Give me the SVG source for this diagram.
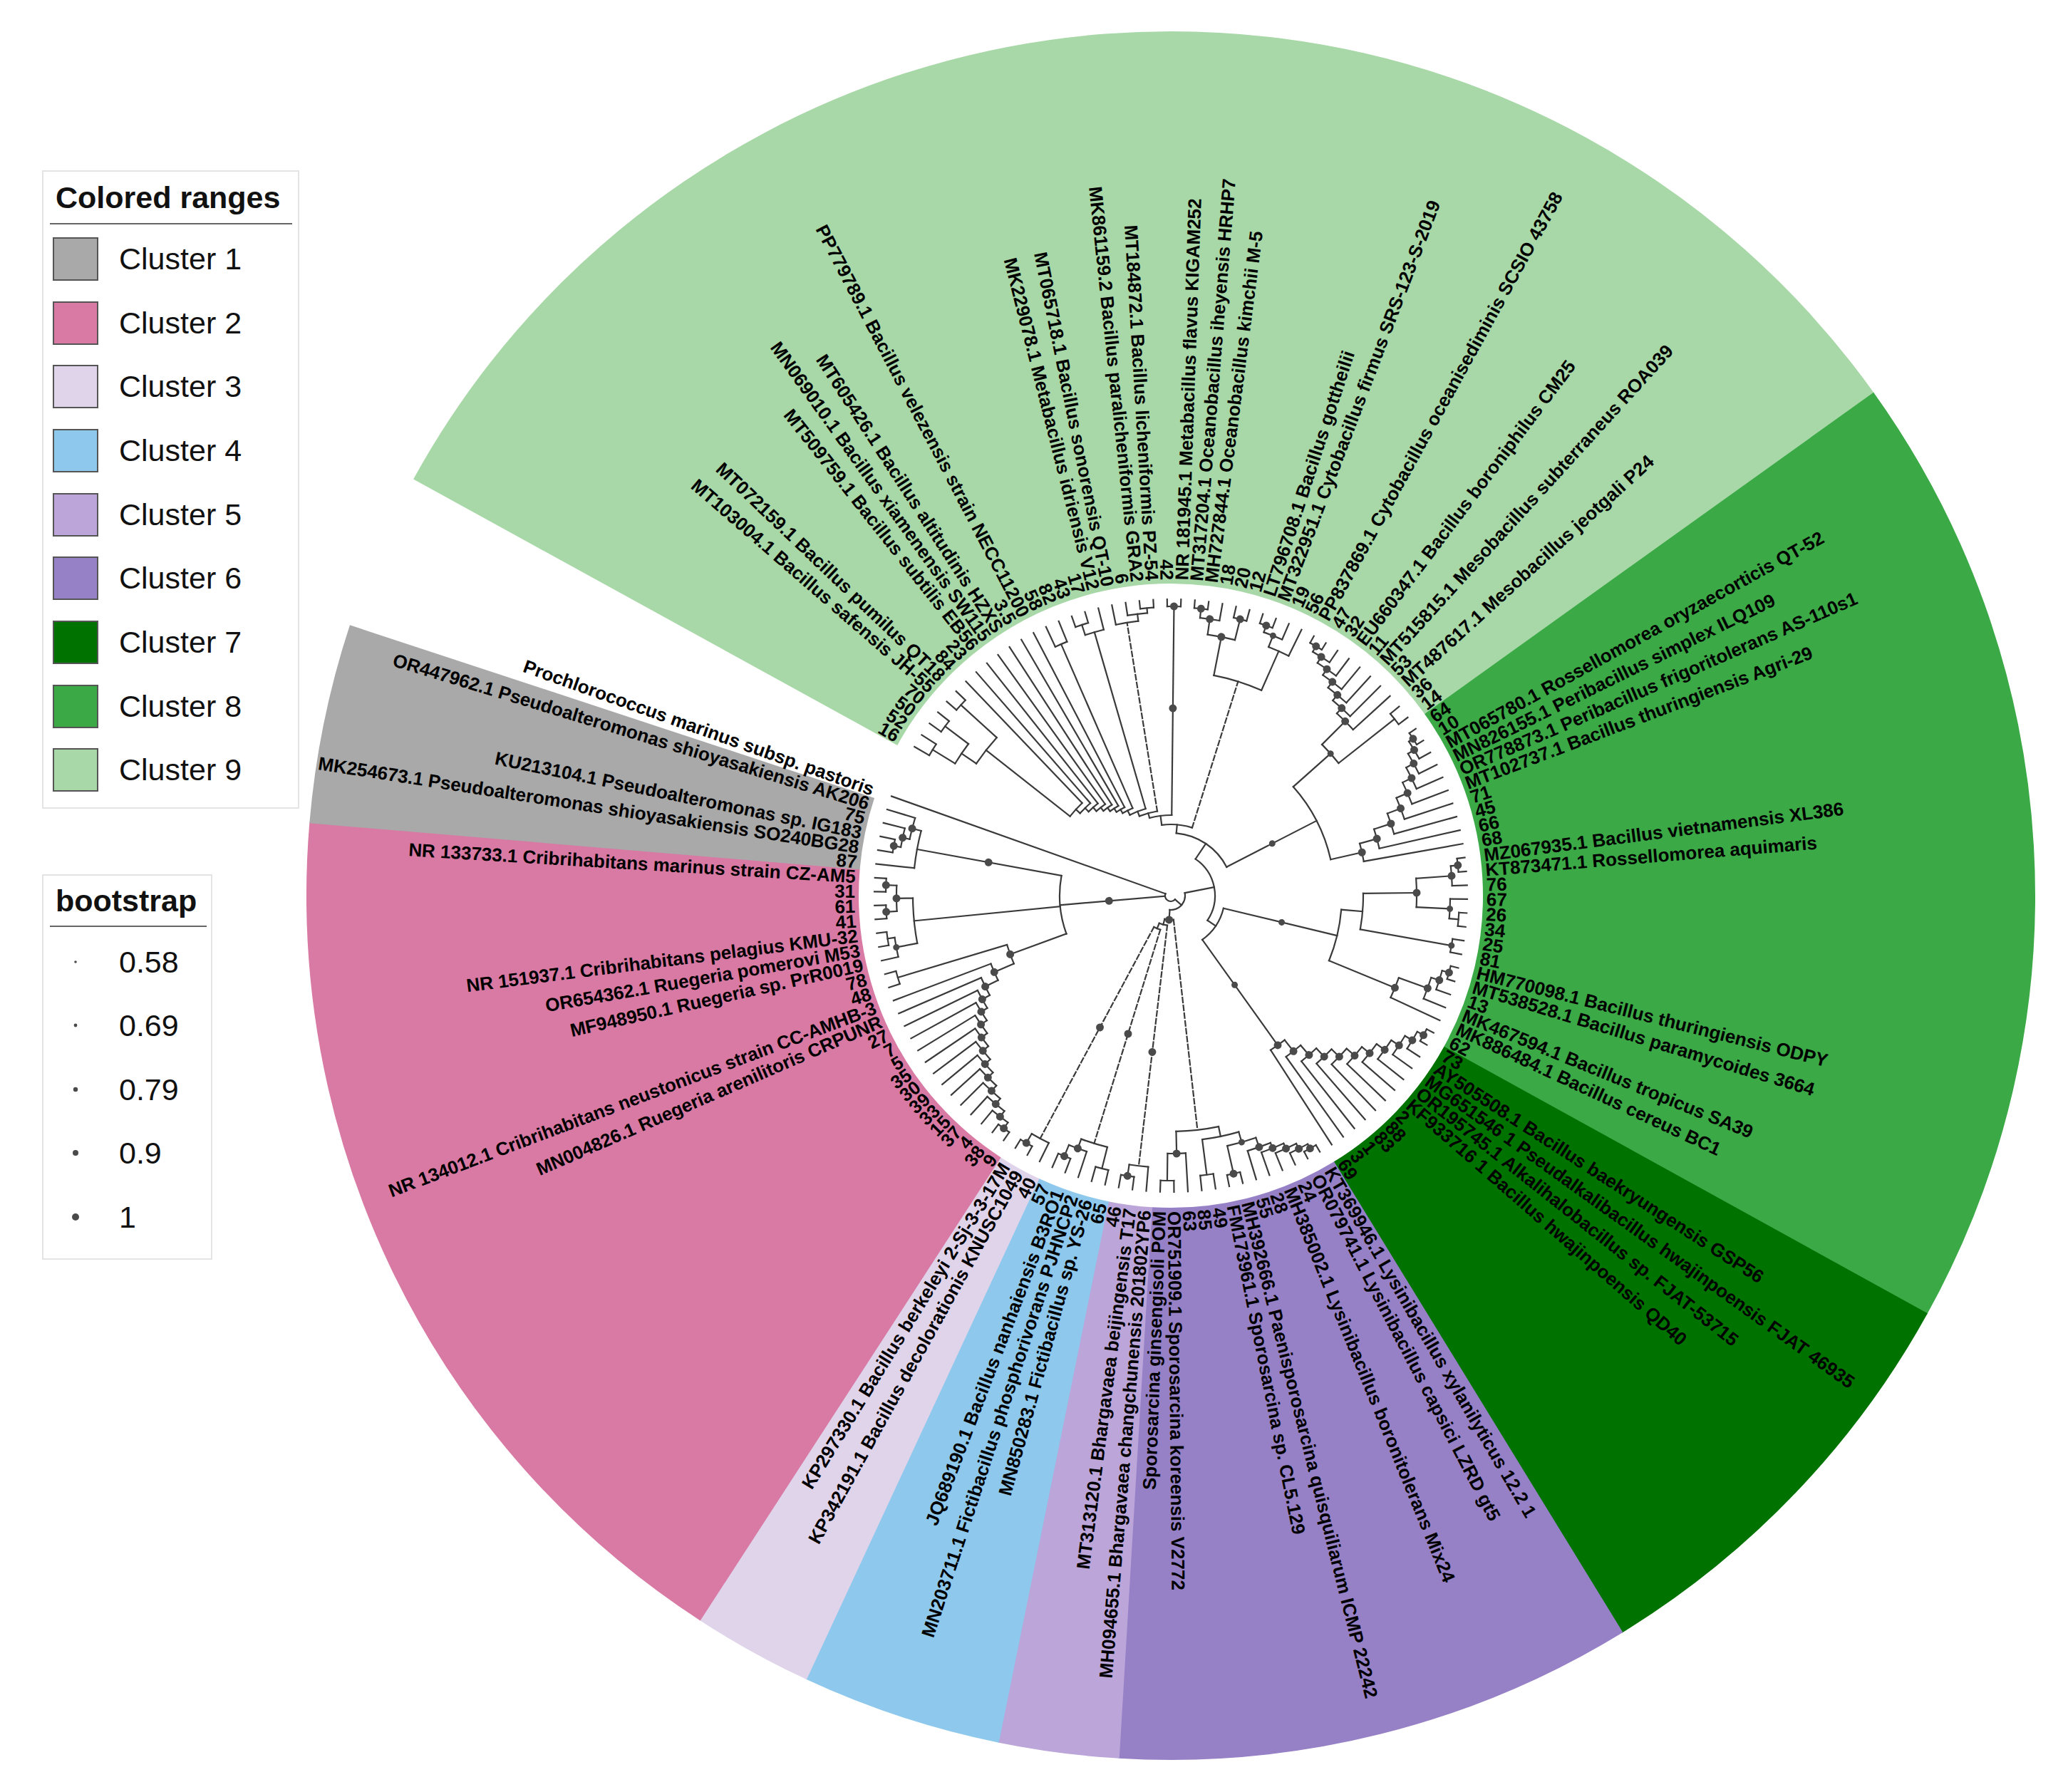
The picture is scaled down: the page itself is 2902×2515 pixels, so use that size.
<svg xmlns="http://www.w3.org/2000/svg" width="2902" height="2515" viewBox="0 0 2902 2515">
<style>
.rg{fill:none;stroke-width:775}
.br{fill:none;stroke:#3a3a3a;stroke-width:2.2;stroke-linecap:square}
.ds{stroke-dasharray:7 4}
.dt{fill:#4a4a4a}
.lb{font-family:"Liberation Sans",Arial,Helvetica,sans-serif;font-weight:bold;font-size:26px;fill:#000}
.f{text-anchor:end}
.lgt{font-family:"Liberation Sans",Arial,Helvetica,sans-serif;font-size:43px;fill:#111}
.lgh{font-weight:bold}
.sw{stroke:#555;stroke-width:2}
</style>
<rect width="2902" height="2515" fill="#fff"/>
<g transform="translate(1643 1257) rotate(-0.25)">
<g id="ranges">
<circle class="rg" r="825.5" stroke="#a8d8a8" stroke-dasharray="1666 6000" transform="rotate(209.056)"/>
<circle class="rg" r="825.5" stroke="#3aa946" stroke-dasharray="930.5 6000" transform="rotate(324.64)"/>
<circle class="rg" r="825.5" stroke="#007200" stroke-dasharray="427 6000" transform="rotate(389.152)"/>
<circle class="rg" r="825.5" stroke="#9680c6" stroke-dasharray="504.5 6000" transform="rotate(418.72)"/>
<circle class="rg" r="825.5" stroke="#bba5d9" stroke-dasharray="117.2 6000" transform="rotate(453.664)"/>
<circle class="rg" r="825.5" stroke="#8ec8ec" stroke-dasharray="194.6 6000" transform="rotate(461.728)"/>
<circle class="rg" r="825.5" stroke="#e0d4eb" stroke-dasharray="117.2 6000" transform="rotate(475.168)"/>
<circle class="rg" r="825.5" stroke="#d87aa4" stroke-dasharray="891.7 6000" transform="rotate(483.232)"/>
<circle class="rg" r="825.5" stroke="#a9a9a9" stroke-dasharray="193.6 6000" transform="rotate(545.056)"/>
</g>
<g id="connectors" class="br">
<circle r="392" transform="rotate(210.4)" stroke-dasharray="18.39 9999"/>
<circle r="396" transform="rotate(215.776)" stroke-dasharray="18.58 9999"/>
<circle r="398" transform="rotate(221.152)" stroke-dasharray="18.67 9999"/>
<circle r="355" transform="rotate(211.744)" stroke-dasharray="33.31 9999"/>
<circle r="330" transform="rotate(214.432)" stroke-dasharray="46.45 9999"/>
<circle r="180" transform="rotate(218.464)" stroke-dasharray="25.33 9999"/>
<circle r="172" transform="rotate(222.496)" stroke-dasharray="20.17 9999"/>
<circle r="165" transform="rotate(225.856)" stroke-dasharray="17.42 9999"/>
<circle r="158" transform="rotate(228.88)" stroke-dasharray="15.75 9999"/>
<circle r="152" transform="rotate(231.736)" stroke-dasharray="14.71 9999"/>
<circle r="146" transform="rotate(234.508)" stroke-dasharray="13.91 9999"/>
<circle r="140" transform="rotate(237.238)" stroke-dasharray="13.24 9999"/>
<circle r="385" transform="rotate(245.344)" stroke-dasharray="18.06 9999"/>
<circle r="134" transform="rotate(239.947)" stroke-dasharray="15.77 9999"/>
<circle r="400" transform="rotate(250.72)" stroke-dasharray="18.77 9999"/>
<circle r="385" transform="rotate(252.064)" stroke-dasharray="27.09 9999"/>
<circle r="127" transform="rotate(243.318)" stroke-dasharray="23.85 9999"/>
<circle r="405" transform="rotate(264.16)" stroke-dasharray="19 9999"/>
<circle r="398" transform="rotate(261.472)" stroke-dasharray="28.01 9999"/>
<circle r="388" transform="rotate(258.784)" stroke-dasharray="31.85 9999"/>
<circle r="120" transform="rotate(248.699)" stroke-dasharray="26.05 9999"/>
<circle r="406" transform="rotate(269.536)" stroke-dasharray="19.05 9999"/>
<circle r="113" transform="rotate(254.918)" stroke-dasharray="31.48 9999"/>
<circle r="405" transform="rotate(274.912)" stroke-dasharray="19 9999"/>
<circle r="392" transform="rotate(276.256)" stroke-dasharray="27.59 9999"/>
<circle r="400" transform="rotate(282.976)" stroke-dasharray="18.77 9999"/>
<circle r="370" transform="rotate(278.272)" stroke-dasharray="39.06 9999"/>
<circle r="402" transform="rotate(288.352)" stroke-dasharray="18.86 9999"/>
<circle r="392" transform="rotate(289.696)" stroke-dasharray="27.59 9999"/>
<circle r="375" transform="rotate(291.712)" stroke-dasharray="30.79 9999"/>
<circle r="315" transform="rotate(281.296)" stroke-dasharray="70.2 9999"/>
<circle r="100" transform="rotate(262.899)" stroke-dasharray="43.25 9999"/>
<circle r="405" transform="rotate(299.104)" stroke-dasharray="19 9999"/>
<circle r="396" transform="rotate(300.448)" stroke-dasharray="27.87 9999"/>
<circle r="386" transform="rotate(302.464)" stroke-dasharray="31.69 9999"/>
<circle r="376" transform="rotate(304.816)" stroke-dasharray="33.07 9999"/>
<circle r="366" transform="rotate(307.336)" stroke-dasharray="33.27 9999"/>
<circle r="356" transform="rotate(309.94)" stroke-dasharray="32.88 9999"/>
<circle r="346" transform="rotate(312.586)" stroke-dasharray="32.21 9999"/>
<circle r="400" transform="rotate(320.608)" stroke-dasharray="18.77 9999"/>
<circle r="300" transform="rotate(315.253)" stroke-dasharray="35.08 9999"/>
<circle r="405" transform="rotate(325.984)" stroke-dasharray="19 9999"/>
<circle r="398" transform="rotate(327.328)" stroke-dasharray="28.01 9999"/>
<circle r="388" transform="rotate(329.344)" stroke-dasharray="31.85 9999"/>
<circle r="376" transform="rotate(331.696)" stroke-dasharray="33.07 9999"/>
<circle r="362" transform="rotate(334.216)" stroke-dasharray="32.9 9999"/>
<circle r="345" transform="rotate(336.82)" stroke-dasharray="31.87 9999"/>
<circle r="325" transform="rotate(339.466)" stroke-dasharray="30.26 9999"/>
<circle r="300" transform="rotate(342.133)" stroke-dasharray="28.04 9999"/>
<circle r="275" transform="rotate(344.81)" stroke-dasharray="25.76 9999"/>
<circle r="230" transform="rotate(318.603)" stroke-dasharray="115.97 9999"/>
<circle r="88" transform="rotate(275.29)" stroke-dasharray="88.71 9999"/>
<circle r="405" transform="rotate(352.864)" stroke-dasharray="19 9999"/>
<circle r="395" transform="rotate(354.208)" stroke-dasharray="27.8 9999"/>
<circle r="405" transform="rotate(363.616)" stroke-dasharray="19 9999"/>
<circle r="392" transform="rotate(360.928)" stroke-dasharray="27.59 9999"/>
<circle r="345" transform="rotate(356.224)" stroke-dasharray="40.46 9999"/>
<circle r="400" transform="rotate(368.992)" stroke-dasharray="18.77 9999"/>
<circle r="270" transform="rotate(359.584)" stroke-dasharray="50.67 9999"/>
<circle r="405" transform="rotate(374.368)" stroke-dasharray="19 9999"/>
<circle r="395" transform="rotate(375.712)" stroke-dasharray="27.8 9999"/>
<circle r="383" transform="rotate(377.728)" stroke-dasharray="31.44 9999"/>
<circle r="340" transform="rotate(380.08)" stroke-dasharray="29.91 9999"/>
<circle r="240" transform="rotate(364.96)" stroke-dasharray="73.89 9999"/>
<circle r="405" transform="rotate(387.808)" stroke-dasharray="19 9999"/>
<circle r="395" transform="rotate(389.152)" stroke-dasharray="27.8 9999"/>
<circle r="383" transform="rotate(391.168)" stroke-dasharray="31.44 9999"/>
<circle r="370" transform="rotate(393.52)" stroke-dasharray="32.55 9999"/>
<circle r="356" transform="rotate(396.04)" stroke-dasharray="32.36 9999"/>
<circle r="342" transform="rotate(398.644)" stroke-dasharray="31.59 9999"/>
<circle r="327" transform="rotate(401.29)" stroke-dasharray="30.44 9999"/>
<circle r="312" transform="rotate(403.957)" stroke-dasharray="29.16 9999"/>
<circle r="296" transform="rotate(406.635)" stroke-dasharray="27.72 9999"/>
<circle r="278" transform="rotate(409.317)" stroke-dasharray="26.06 9999"/>
<circle r="258" transform="rotate(412.003)" stroke-dasharray="24.19 9999"/>
<circle r="76" transform="rotate(373.78)" stroke-dasharray="54.27 9999"/>
<circle r="62" transform="rotate(304.169)" stroke-dasharray="97.46 9999"/>
<circle r="405" transform="rotate(420.064)" stroke-dasharray="19 9999"/>
<circle r="398" transform="rotate(421.408)" stroke-dasharray="28.01 9999"/>
<circle r="390" transform="rotate(423.424)" stroke-dasharray="32.02 9999"/>
<circle r="382" transform="rotate(425.776)" stroke-dasharray="33.6 9999"/>
<circle r="374" transform="rotate(428.296)" stroke-dasharray="34 9999"/>
<circle r="400" transform="rotate(436.192)" stroke-dasharray="18.77 9999"/>
<circle r="360" transform="rotate(430.9)" stroke-dasharray="41.7 9999"/>
<circle r="395" transform="rotate(441.568)" stroke-dasharray="18.53 9999"/>
<circle r="345" transform="rotate(434.218)" stroke-dasharray="52.35 9999"/>
<circle r="400" transform="rotate(449.632)" stroke-dasharray="18.77 9999"/>
<circle r="362" transform="rotate(446.944)" stroke-dasharray="25.47 9999"/>
<circle r="331" transform="rotate(438.565)" stroke-dasharray="60.05 9999"/>
<circle r="398" transform="rotate(457.696)" stroke-dasharray="18.67 9999"/>
<circle r="382" transform="rotate(455.008)" stroke-dasharray="26.88 9999"/>
<circle r="395" transform="rotate(463.072)" stroke-dasharray="18.53 9999"/>
<circle r="395" transform="rotate(471.136)" stroke-dasharray="18.53 9999"/>
<circle r="378" transform="rotate(468.448)" stroke-dasharray="26.6 9999"/>
<circle r="364" transform="rotate(464.416)" stroke-dasharray="38.42 9999"/>
<circle r="402" transform="rotate(479.2)" stroke-dasharray="18.86 9999"/>
<circle r="387" transform="rotate(476.512)" stroke-dasharray="27.23 9999"/>
<circle r="50" transform="rotate(467.44)" stroke-dasharray="9.68 9999"/>
<circle r="42" transform="rotate(457.024)" stroke-dasharray="11.7 9999"/>
<circle r="34" transform="rotate(443.763)" stroke-dasharray="12.6 9999"/>
<circle r="20" transform="rotate(349.202)" stroke-dasharray="36.72 9999"/>
<circle r="402" transform="rotate(484.576)" stroke-dasharray="18.86 9999"/>
<circle r="392" transform="rotate(485.92)" stroke-dasharray="27.59 9999"/>
<circle r="382" transform="rotate(487.936)" stroke-dasharray="31.36 9999"/>
<circle r="372" transform="rotate(490.288)" stroke-dasharray="32.72 9999"/>
<circle r="362" transform="rotate(492.808)" stroke-dasharray="32.9 9999"/>
<circle r="352" transform="rotate(495.412)" stroke-dasharray="32.51 9999"/>
<circle r="342" transform="rotate(498.058)" stroke-dasharray="31.84 9999"/>
<circle r="332" transform="rotate(500.725)" stroke-dasharray="31.03 9999"/>
<circle r="322" transform="rotate(503.403)" stroke-dasharray="30.15 9999"/>
<circle r="312" transform="rotate(506.085)" stroke-dasharray="29.25 9999"/>
<circle r="302" transform="rotate(508.771)" stroke-dasharray="28.32 9999"/>
<circle r="290" transform="rotate(511.457)" stroke-dasharray="27.21 9999"/>
<circle r="270" transform="rotate(514.145)" stroke-dasharray="25.33 9999"/>
<circle r="400" transform="rotate(522.208)" stroke-dasharray="18.77 9999"/>
<circle r="240" transform="rotate(516.832)" stroke-dasharray="28.15 9999"/>
<circle r="402" transform="rotate(530.272)" stroke-dasharray="18.86 9999"/>
<circle r="392" transform="rotate(527.584)" stroke-dasharray="27.59 9999"/>
<circle r="400" transform="rotate(541.024)" stroke-dasharray="18.77 9999"/>
<circle r="400" transform="rotate(535.648)" stroke-dasharray="18.77 9999"/>
<circle r="385" transform="rotate(536.992)" stroke-dasharray="36.12 9999"/>
<circle r="362" transform="rotate(529.6)" stroke-dasharray="63.69 9999"/>
<circle r="395" transform="rotate(549.088)" stroke-dasharray="18.53 9999"/>
<circle r="385" transform="rotate(550.432)" stroke-dasharray="27.09 9999"/>
<circle r="375" transform="rotate(552.448)" stroke-dasharray="30.79 9999"/>
<circle r="362" transform="rotate(546.4)" stroke-dasharray="53.07 9999"/>
<circle r="156" transform="rotate(520.192)" stroke-dasharray="82.79 9999"/>
<circle r="8" transform="rotate(401.79)" stroke-dasharray="22.07 9999"/>
<path transform="rotate(210.4)" d="M392 0H416"/>
<path transform="rotate(213.088)" d="M392 0H416"/>
<path transform="rotate(215.776)" d="M396 0H416"/>
<path transform="rotate(218.464)" d="M396 0H416"/>
<path transform="rotate(221.152)" d="M398 0H416"/>
<path transform="rotate(223.84)" d="M398 0H416"/>
<path transform="rotate(226.528)" d="M180 0H416"/>
<path transform="rotate(229.216)" d="M172 0H416"/>
<path transform="rotate(231.904)" d="M165 0H416"/>
<path transform="rotate(234.592)" d="M158 0H416"/>
<path transform="rotate(237.28)" d="M152 0H416"/>
<path transform="rotate(239.968)" d="M146 0H416"/>
<path transform="rotate(242.656)" d="M140 0H416"/>
<path transform="rotate(245.344)" d="M385 0H416"/>
<path transform="rotate(248.032)" d="M385 0H416"/>
<path transform="rotate(250.72)" d="M400 0H416"/>
<path transform="rotate(253.408)" d="M400 0H416"/>
<path transform="rotate(256.096)" d="M385 0H416"/>
<path transform="rotate(258.784)" d="M388 0H416"/>
<path transform="rotate(261.472)" d="M398 0H416"/>
<path transform="rotate(264.16)" d="M405 0H416"/>
<path transform="rotate(266.848)" d="M405 0H416"/>
<path transform="rotate(269.536)" d="M406 0H416"/>
<path transform="rotate(272.224)" d="M406 0H416"/>
<path transform="rotate(274.912)" d="M405 0H416"/>
<path transform="rotate(277.6)" d="M405 0H416"/>
<path transform="rotate(280.288)" d="M392 0H416"/>
<path transform="rotate(282.976)" d="M400 0H416"/>
<path transform="rotate(285.664)" d="M400 0H416"/>
<path transform="rotate(288.352)" d="M402 0H416"/>
<path transform="rotate(291.04)" d="M402 0H416"/>
<path transform="rotate(293.728)" d="M392 0H416"/>
<path transform="rotate(296.416)" d="M375 0H416"/>
<path transform="rotate(299.104)" d="M405 0H416"/>
<path transform="rotate(301.792)" d="M405 0H416"/>
<path transform="rotate(304.48)" d="M396 0H416"/>
<path transform="rotate(307.168)" d="M386 0H416"/>
<path transform="rotate(309.856)" d="M376 0H416"/>
<path transform="rotate(312.544)" d="M366 0H416"/>
<path transform="rotate(315.232)" d="M356 0H416"/>
<path transform="rotate(317.92)" d="M346 0H416"/>
<path transform="rotate(320.608)" d="M400 0H416"/>
<path transform="rotate(323.296)" d="M400 0H416"/>
<path transform="rotate(325.984)" d="M405 0H416"/>
<path transform="rotate(328.672)" d="M405 0H416"/>
<path transform="rotate(331.36)" d="M398 0H416"/>
<path transform="rotate(334.048)" d="M388 0H416"/>
<path transform="rotate(336.736)" d="M376 0H416"/>
<path transform="rotate(339.424)" d="M362 0H416"/>
<path transform="rotate(342.112)" d="M345 0H416"/>
<path transform="rotate(344.8)" d="M325 0H416"/>
<path transform="rotate(347.488)" d="M300 0H416"/>
<path transform="rotate(350.176)" d="M275 0H416"/>
<path transform="rotate(352.864)" d="M405 0H416"/>
<path transform="rotate(355.552)" d="M405 0H416"/>
<path transform="rotate(358.24)" d="M395 0H416"/>
<path transform="rotate(360.928)" d="M392 0H416"/>
<path transform="rotate(363.616)" d="M405 0H416"/>
<path transform="rotate(366.304)" d="M405 0H416"/>
<path transform="rotate(368.992)" d="M400 0H416"/>
<path transform="rotate(371.68)" d="M400 0H416"/>
<path transform="rotate(374.368)" d="M405 0H416"/>
<path transform="rotate(377.056)" d="M405 0H416"/>
<path transform="rotate(379.744)" d="M395 0H416"/>
<path transform="rotate(382.432)" d="M383 0H416"/>
<path transform="rotate(385.12)" d="M340 0H416"/>
<path transform="rotate(387.808)" d="M405 0H416"/>
<path transform="rotate(390.496)" d="M405 0H416"/>
<path transform="rotate(393.184)" d="M395 0H416"/>
<path transform="rotate(395.872)" d="M383 0H416"/>
<path transform="rotate(398.56)" d="M370 0H416"/>
<path transform="rotate(401.248)" d="M356 0H416"/>
<path transform="rotate(403.936)" d="M342 0H416"/>
<path transform="rotate(406.624)" d="M327 0H416"/>
<path transform="rotate(409.312)" d="M312 0H416"/>
<path transform="rotate(412)" d="M296 0H416"/>
<path transform="rotate(414.688)" d="M278 0H416"/>
<path transform="rotate(417.376)" d="M258 0H416"/>
<path transform="rotate(420.064)" d="M405 0H416"/>
<path transform="rotate(422.752)" d="M405 0H416"/>
<path transform="rotate(425.44)" d="M398 0H416"/>
<path transform="rotate(428.128)" d="M390 0H416"/>
<path transform="rotate(430.816)" d="M382 0H416"/>
<path transform="rotate(433.504)" d="M374 0H416"/>
<path transform="rotate(436.192)" d="M400 0H416"/>
<path transform="rotate(438.88)" d="M400 0H416"/>
<path transform="rotate(441.568)" d="M395 0H416"/>
<path transform="rotate(444.256)" d="M395 0H416"/>
<path transform="rotate(446.944)" d="M362 0H416"/>
<path transform="rotate(449.632)" d="M400 0H416"/>
<path transform="rotate(452.32)" d="M400 0H416"/>
<path transform="rotate(455.008)" d="M382 0H416"/>
<path transform="rotate(457.696)" d="M398 0H416"/>
<path transform="rotate(460.384)" d="M398 0H416"/>
<path transform="rotate(463.072)" d="M395 0H416"/>
<path transform="rotate(465.76)" d="M395 0H416"/>
<path transform="rotate(468.448)" d="M378 0H416"/>
<path transform="rotate(471.136)" d="M395 0H416"/>
<path transform="rotate(473.824)" d="M395 0H416"/>
<path transform="rotate(476.512)" d="M387 0H416"/>
<path transform="rotate(479.2)" d="M402 0H416"/>
<path transform="rotate(481.888)" d="M402 0H416"/>
<path transform="rotate(484.576)" d="M402 0H416"/>
<path transform="rotate(487.264)" d="M402 0H416"/>
<path transform="rotate(489.952)" d="M392 0H416"/>
<path transform="rotate(492.64)" d="M382 0H416"/>
<path transform="rotate(495.328)" d="M372 0H416"/>
<path transform="rotate(498.016)" d="M362 0H416"/>
<path transform="rotate(500.704)" d="M352 0H416"/>
<path transform="rotate(503.392)" d="M342 0H416"/>
<path transform="rotate(506.08)" d="M332 0H416"/>
<path transform="rotate(508.768)" d="M322 0H416"/>
<path transform="rotate(511.456)" d="M312 0H416"/>
<path transform="rotate(514.144)" d="M302 0H416"/>
<path transform="rotate(516.832)" d="M290 0H416"/>
<path transform="rotate(519.52)" d="M270 0H416"/>
<path transform="rotate(522.208)" d="M400 0H416"/>
<path transform="rotate(524.896)" d="M400 0H416"/>
<path transform="rotate(527.584)" d="M392 0H416"/>
<path transform="rotate(530.272)" d="M402 0H416"/>
<path transform="rotate(532.96)" d="M402 0H416"/>
<path transform="rotate(535.648)" d="M400 0H416"/>
<path transform="rotate(538.336)" d="M400 0H416"/>
<path transform="rotate(541.024)" d="M400 0H416"/>
<path transform="rotate(543.712)" d="M400 0H416"/>
<path transform="rotate(546.4)" d="M362 0H416"/>
<path transform="rotate(549.088)" d="M395 0H416"/>
<path transform="rotate(551.776)" d="M395 0H416"/>
<path transform="rotate(554.464)" d="M385 0H416"/>
<path transform="rotate(557.152)" d="M375 0H416"/>
<path transform="rotate(559.84)" d="M8 0H416"/>
<path transform="rotate(211.744)" d="M355 0H392"/>
<path transform="rotate(217.12)" d="M355 0H396"/>
<path transform="rotate(214.432)" d="M330 0H355"/>
<path transform="rotate(222.496)" d="M330 0H398"/>
<path transform="rotate(218.464)" d="M180 0H330"/>
<path transform="rotate(222.496)" d="M172 0H180"/>
<path transform="rotate(225.856)" d="M165 0H172"/>
<path transform="rotate(228.88)" d="M158 0H165"/>
<path transform="rotate(231.736)" d="M152 0H158"/>
<path transform="rotate(234.508)" d="M146 0H152"/>
<path transform="rotate(237.238)" d="M140 0H146"/>
<path transform="rotate(239.947)" d="M134 0H140"/>
<path transform="rotate(246.688)" d="M134 0H385"/>
<path transform="rotate(243.318)" d="M127 0H134"/>
<path transform="rotate(252.064)" d="M385 0H400"/>
<path transform="rotate(254.08)" d="M127 0H385"/>
<path transform="rotate(248.699)" d="M120 0H127"/>
<path transform="rotate(265.504)" d="M398 0H405"/>
<path transform="rotate(263.488)" d="M388 0H398"/>
<path class="ds" transform="rotate(261.136)" d="M120 0H388"/>
<path transform="rotate(254.918)" d="M113 0H120"/>
<path transform="rotate(270.88)" d="M113 0H406"/>
<path transform="rotate(262.899)" d="M100 0H113"/>
<path transform="rotate(276.256)" d="M392 0H405"/>
<path transform="rotate(278.272)" d="M370 0H392"/>
<path transform="rotate(284.32)" d="M370 0H400"/>
<path transform="rotate(281.296)" d="M315 0H370"/>
<path transform="rotate(289.696)" d="M392 0H402"/>
<path transform="rotate(291.712)" d="M375 0H392"/>
<path transform="rotate(294.064)" d="M315 0H375"/>
<path class="ds" transform="rotate(287.68)" d="M100 0H315"/>
<path transform="rotate(275.29)" d="M88 0H100"/>
<path transform="rotate(300.448)" d="M396 0H405"/>
<path transform="rotate(302.464)" d="M386 0H396"/>
<path transform="rotate(304.816)" d="M376 0H386"/>
<path transform="rotate(307.336)" d="M366 0H376"/>
<path transform="rotate(309.94)" d="M356 0H366"/>
<path transform="rotate(312.586)" d="M346 0H356"/>
<path transform="rotate(315.253)" d="M300 0H346"/>
<path transform="rotate(321.952)" d="M300 0H400"/>
<path transform="rotate(318.603)" d="M230 0H300"/>
<path transform="rotate(327.328)" d="M398 0H405"/>
<path transform="rotate(329.344)" d="M388 0H398"/>
<path transform="rotate(331.696)" d="M376 0H388"/>
<path transform="rotate(334.216)" d="M362 0H376"/>
<path transform="rotate(336.82)" d="M345 0H362"/>
<path transform="rotate(339.466)" d="M325 0H345"/>
<path transform="rotate(342.133)" d="M300 0H325"/>
<path transform="rotate(344.81)" d="M275 0H300"/>
<path transform="rotate(347.493)" d="M230 0H275"/>
<path transform="rotate(333.048)" d="M88 0H230"/>
<path transform="rotate(304.169)" d="M62 0H88"/>
<path transform="rotate(354.208)" d="M395 0H405"/>
<path transform="rotate(356.224)" d="M345 0H395"/>
<path transform="rotate(364.96)" d="M392 0H405"/>
<path transform="rotate(362.944)" d="M345 0H392"/>
<path transform="rotate(359.584)" d="M270 0H345"/>
<path transform="rotate(370.336)" d="M270 0H400"/>
<path transform="rotate(364.96)" d="M240 0H270"/>
<path transform="rotate(375.712)" d="M395 0H405"/>
<path transform="rotate(377.728)" d="M383 0H395"/>
<path transform="rotate(380.08)" d="M340 0H383"/>
<path transform="rotate(382.6)" d="M240 0H340"/>
<path transform="rotate(373.78)" d="M76 0H240"/>
<path transform="rotate(389.152)" d="M395 0H405"/>
<path transform="rotate(391.168)" d="M383 0H395"/>
<path transform="rotate(393.52)" d="M370 0H383"/>
<path transform="rotate(396.04)" d="M356 0H370"/>
<path transform="rotate(398.644)" d="M342 0H356"/>
<path transform="rotate(401.29)" d="M327 0H342"/>
<path transform="rotate(403.957)" d="M312 0H327"/>
<path transform="rotate(406.635)" d="M296 0H312"/>
<path transform="rotate(409.317)" d="M278 0H296"/>
<path transform="rotate(412.003)" d="M258 0H278"/>
<path transform="rotate(414.69)" d="M76 0H258"/>
<path transform="rotate(394.235)" d="M62 0H76"/>
<path transform="rotate(349.202)" d="M20 0H62"/>
<path transform="rotate(421.408)" d="M398 0H405"/>
<path transform="rotate(423.424)" d="M390 0H398"/>
<path transform="rotate(425.776)" d="M382 0H390"/>
<path transform="rotate(428.296)" d="M374 0H382"/>
<path transform="rotate(430.9)" d="M360 0H374"/>
<path transform="rotate(437.536)" d="M360 0H400"/>
<path transform="rotate(434.218)" d="M345 0H360"/>
<path transform="rotate(442.912)" d="M345 0H395"/>
<path transform="rotate(438.565)" d="M331 0H345"/>
<path transform="rotate(450.976)" d="M362 0H400"/>
<path transform="rotate(448.96)" d="M331 0H362"/>
<path class="ds" transform="rotate(443.763)" d="M34 0H331"/>
<path transform="rotate(459.04)" d="M382 0H398"/>
<path class="ds" transform="rotate(457.024)" d="M42 0H382"/>
<path transform="rotate(464.416)" d="M364 0H395"/>
<path transform="rotate(472.48)" d="M378 0H395"/>
<path transform="rotate(470.464)" d="M364 0H378"/>
<path class="ds" transform="rotate(467.44)" d="M50 0H364"/>
<path transform="rotate(480.544)" d="M387 0H402"/>
<path class="ds" transform="rotate(478.528)" d="M50 0H387"/>
<path transform="rotate(472.984)" d="M42 0H50"/>
<path transform="rotate(465.004)" d="M34 0H42"/>
<path transform="rotate(454.383)" d="M20 0H34"/>
<path transform="rotate(401.79)" d="M8 0H20"/>
<path transform="rotate(485.92)" d="M392 0H402"/>
<path transform="rotate(487.936)" d="M382 0H392"/>
<path transform="rotate(490.288)" d="M372 0H382"/>
<path transform="rotate(492.808)" d="M362 0H372"/>
<path transform="rotate(495.412)" d="M352 0H362"/>
<path transform="rotate(498.058)" d="M342 0H352"/>
<path transform="rotate(500.725)" d="M332 0H342"/>
<path transform="rotate(503.403)" d="M322 0H332"/>
<path transform="rotate(506.085)" d="M312 0H322"/>
<path transform="rotate(508.771)" d="M302 0H312"/>
<path transform="rotate(511.457)" d="M290 0H302"/>
<path transform="rotate(514.145)" d="M270 0H290"/>
<path transform="rotate(516.832)" d="M240 0H270"/>
<path transform="rotate(523.552)" d="M240 0H400"/>
<path transform="rotate(520.192)" d="M156 0H240"/>
<path transform="rotate(531.616)" d="M392 0H402"/>
<path transform="rotate(529.6)" d="M362 0H392"/>
<path transform="rotate(542.368)" d="M385 0H400"/>
<path transform="rotate(536.992)" d="M385 0H400"/>
<path transform="rotate(539.68)" d="M362 0H385"/>
<path transform="rotate(534.64)" d="M156 0H362"/>
<path transform="rotate(550.432)" d="M385 0H395"/>
<path transform="rotate(552.448)" d="M375 0H385"/>
<path transform="rotate(554.8)" d="M362 0H375"/>
<path transform="rotate(550.6)" d="M156 0H362"/>
<path transform="rotate(535.396)" d="M8 0H156"/>
</g>
<g id="bootstrap" class="dt">
<circle r="5.5" cx="406" transform="rotate(270.88)"/>
<circle r="5.5" cx="263" transform="rotate(270.88)"/>
<circle r="5.5" cx="405" transform="rotate(276.256)"/>
<circle r="5.5" cx="392" transform="rotate(278.272)"/>
<circle r="5.5" cx="400" transform="rotate(284.32)"/>
<circle r="5.5" cx="370" transform="rotate(281.296)"/>
<circle r="5.5" cx="402" transform="rotate(289.696)"/>
<circle r="4.5" cx="392" transform="rotate(291.712)"/>
<circle r="5.5" cx="405" transform="rotate(300.448)"/>
<circle r="5.5" cx="396" transform="rotate(302.464)"/>
<circle r="5.5" cx="386" transform="rotate(304.816)"/>
<circle r="5.5" cx="376" transform="rotate(307.336)"/>
<circle r="5.5" cx="366" transform="rotate(309.94)"/>
<circle r="5.5" cx="356" transform="rotate(312.586)"/>
<circle r="5.5" cx="346" transform="rotate(315.253)"/>
<circle r="4.5" cx="300" transform="rotate(318.603)"/>
<circle r="4.5" cx="160" transform="rotate(333.048)"/>
<circle r="5.5" cx="405" transform="rotate(327.328)"/>
<circle r="5.5" cx="398" transform="rotate(329.344)"/>
<circle r="5.5" cx="388" transform="rotate(331.696)"/>
<circle r="5.5" cx="376" transform="rotate(334.216)"/>
<circle r="5.5" cx="362" transform="rotate(336.82)"/>
<circle r="5.5" cx="345" transform="rotate(339.466)"/>
<circle r="5.5" cx="325" transform="rotate(342.133)"/>
<circle r="5.5" cx="300" transform="rotate(344.81)"/>
<circle r="5.5" cx="275" transform="rotate(347.493)"/>
<circle r="5.5" cx="405" transform="rotate(354.208)"/>
<circle r="5.5" cx="395" transform="rotate(356.224)"/>
<circle r="5.5" cx="345" transform="rotate(359.584)"/>
<circle r="4.5" cx="392" transform="rotate(362.944)"/>
<circle r="4.5" cx="400" transform="rotate(370.336)"/>
<circle r="4.5" cx="160" transform="rotate(373.78)"/>
<circle r="5.5" cx="405" transform="rotate(375.712)"/>
<circle r="5.5" cx="395" transform="rotate(377.728)"/>
<circle r="5.5" cx="383" transform="rotate(380.08)"/>
<circle r="5.5" cx="340" transform="rotate(382.6)"/>
<circle r="5.5" cx="405" transform="rotate(389.152)"/>
<circle r="5.5" cx="395" transform="rotate(391.168)"/>
<circle r="5.5" cx="383" transform="rotate(393.52)"/>
<circle r="5.5" cx="370" transform="rotate(396.04)"/>
<circle r="5.5" cx="356" transform="rotate(398.644)"/>
<circle r="5.5" cx="342" transform="rotate(401.29)"/>
<circle r="5.5" cx="327" transform="rotate(403.957)"/>
<circle r="5.5" cx="312" transform="rotate(406.635)"/>
<circle r="5.5" cx="296" transform="rotate(409.317)"/>
<circle r="5.5" cx="278" transform="rotate(412.003)"/>
<circle r="5.5" cx="258" transform="rotate(414.69)"/>
<circle r="4.5" cx="154" transform="rotate(414.69)"/>
<circle r="5.5" cx="405" transform="rotate(421.408)"/>
<circle r="5.5" cx="398" transform="rotate(423.424)"/>
<circle r="5.5" cx="390" transform="rotate(425.776)"/>
<circle r="5.5" cx="382" transform="rotate(428.296)"/>
<circle r="5.5" cx="374" transform="rotate(430.9)"/>
<circle r="5.5" cx="400" transform="rotate(437.536)"/>
<circle r="4.5" cx="360" transform="rotate(434.218)"/>
<circle r="5.5" cx="362" transform="rotate(448.96)"/>
<circle r="5.5" cx="398" transform="rotate(459.04)"/>
<circle r="5.5" cx="221" transform="rotate(457.024)"/>
<circle r="5.5" cx="378" transform="rotate(470.464)"/>
<circle r="5.5" cx="395" transform="rotate(472.48)"/>
<circle r="5.5" cx="203" transform="rotate(467.44)"/>
<circle r="5.5" cx="402" transform="rotate(480.544)"/>
<circle r="5.5" cx="210" transform="rotate(478.528)"/>
<circle r="5.5" cx="34" transform="rotate(454.383)"/>
<circle r="5.5" cx="402" transform="rotate(485.92)"/>
<circle r="5.5" cx="392" transform="rotate(487.936)"/>
<circle r="5.5" cx="382" transform="rotate(490.288)"/>
<circle r="5.5" cx="372" transform="rotate(492.808)"/>
<circle r="5.5" cx="362" transform="rotate(495.412)"/>
<circle r="5.5" cx="352" transform="rotate(498.058)"/>
<circle r="5.5" cx="342" transform="rotate(500.725)"/>
<circle r="5.5" cx="332" transform="rotate(503.403)"/>
<circle r="5.5" cx="322" transform="rotate(506.085)"/>
<circle r="5.5" cx="312" transform="rotate(508.771)"/>
<circle r="5.5" cx="302" transform="rotate(511.457)"/>
<circle r="5.5" cx="290" transform="rotate(514.145)"/>
<circle r="5.5" cx="270" transform="rotate(516.832)"/>
<circle r="5.5" cx="240" transform="rotate(520.192)"/>
<circle r="5.5" cx="400" transform="rotate(536.992)"/>
<circle r="5.5" cx="400" transform="rotate(542.368)"/>
<circle r="5.5" cx="385" transform="rotate(539.68)"/>
<circle r="4.5" cx="392" transform="rotate(529.6)"/>
<circle r="5.5" cx="395" transform="rotate(550.432)"/>
<circle r="5.5" cx="385" transform="rotate(552.448)"/>
<circle r="5.5" cx="375" transform="rotate(554.8)"/>
<circle r="5.5" cx="260" transform="rotate(550.6)"/>
<circle r="5.5" cx="87" transform="rotate(535.396)"/>
</g>
<g id="leaves" class="lb">
<g id="leaf0"><text class="f" transform="rotate(30.4)" x="-443" dy="9">16</text></g>
<g id="leaf1"><text class="f" transform="rotate(33.088)" x="-443" dy="9">52</text></g>
<g id="leaf2"><text class="f" transform="rotate(35.776)" x="-443" dy="9">50</text></g>
<g id="leaf3"><text class="f" transform="rotate(38.464)" x="-443" dy="9">70</text></g>
<g id="leaf4"><text class="f" transform="rotate(41.152)" x="-443" dy="9">MT103004.1 Bacillus safensis JH-55</text></g>
<g id="leaf5"><text class="f" transform="rotate(43.84)" x="-443" dy="9">MT072159.1 Bacillus pumilus QT18</text></g>
<g id="leaf6"><text class="f" transform="rotate(46.528)" x="-443" dy="9">84</text></g>
<g id="leaf7"><text class="f" transform="rotate(49.216)" x="-443" dy="9">23</text></g>
<g id="leaf8"><text class="f" transform="rotate(51.904)" x="-443" dy="9">MT509759.1 Bacillus subtilis EB56</text></g>
<g id="leaf9"><text class="f" transform="rotate(54.592)" x="-443" dy="9">MN069010.1 Bacillus xiamenensis SW115</text></g>
<g id="leaf10"><text class="f" transform="rotate(57.28)" x="-443" dy="9">MT605426.1 Bacillus altitudinis HZXS</text></g>
<g id="leaf11"><text class="f" transform="rotate(59.968)" x="-443" dy="9">3.5</text></g>
<g id="leaf12"><text class="f" transform="rotate(62.656)" x="-443" dy="9">PP779789.1 Bacillus velezensis strain NECC11200</text></g>
<g id="leaf13"><text class="f" transform="rotate(65.344)" x="-443" dy="9">58</text></g>
<g id="leaf14"><text class="f" transform="rotate(68.032)" x="-443" dy="9">82</text></g>
<g id="leaf15"><text class="f" transform="rotate(70.72)" x="-443" dy="9">43</text></g>
<g id="leaf16"><text class="f" transform="rotate(73.408)" x="-443" dy="9">17</text></g>
<g id="leaf17"><text class="f" transform="rotate(76.096)" x="-443" dy="9">MK229078.1 Metabacillus idriensis V12</text></g>
<g id="leaf18"><text class="f" transform="rotate(78.784)" x="-443" dy="9">MT065718.1 Bacillus sonorensis QT-10</text></g>
<g id="leaf19"><text class="f" transform="rotate(81.472)" x="-443" dy="9">6</text></g>
<g id="leaf20"><text class="f" transform="rotate(84.16)" x="-443" dy="9">MK861159.2 Bacillus paralicheniformis GRA2</text></g>
<g id="leaf21"><text class="f" transform="rotate(86.848)" x="-443" dy="9">MT184872.1 Bacillus licheniformis PZ-54</text></g>
<g id="leaf22"><text class="f" transform="rotate(89.536)" x="-443" dy="9">42</text></g>
<g id="leaf23"><text transform="rotate(272.224)" x="443" dy="9">NR 181945.1 Metabacillus flavus KIGAM252</text></g>
<g id="leaf24"><text transform="rotate(274.912)" x="443" dy="9">MT317204.1 Oceanobacillus iheyensis HRHP7</text></g>
<g id="leaf25"><text transform="rotate(277.6)" x="443" dy="9">MH727844.1 Oceanobacillus kimchii M-5</text></g>
<g id="leaf26"><text transform="rotate(280.288)" x="443" dy="9">18</text></g>
<g id="leaf27"><text transform="rotate(282.976)" x="443" dy="9">20</text></g>
<g id="leaf28"><text transform="rotate(285.664)" x="443" dy="9">12</text></g>
<g id="leaf29"><text transform="rotate(288.352)" x="443" dy="9">LT796708.1 Bacillus gottheilii</text></g>
<g id="leaf30"><text transform="rotate(291.04)" x="443" dy="9">MT322951.1 Cytobacillus firmus SRS-123-S-2019</text></g>
<g id="leaf31"><text transform="rotate(293.728)" x="443" dy="9">19</text></g>
<g id="leaf32"><text transform="rotate(296.416)" x="443" dy="9">56</text></g>
<g id="leaf33"><text transform="rotate(299.104)" x="443" dy="9">PP837869.1 Cytobacillus oceanisediminis SCSIO 43758</text></g>
<g id="leaf34"><text transform="rotate(301.792)" x="443" dy="9">47</text></g>
<g id="leaf35"><text transform="rotate(304.48)" x="443" dy="9">32</text></g>
<g id="leaf36"><text transform="rotate(307.168)" x="443" dy="9">EU660347.1 Bacillus boroniphilus CM25</text></g>
<g id="leaf37"><text transform="rotate(309.856)" x="443" dy="9">11</text></g>
<g id="leaf38"><text transform="rotate(312.544)" x="443" dy="9">MT515815.1 Mesobacillus subterraneus ROA039</text></g>
<g id="leaf39"><text transform="rotate(315.232)" x="443" dy="9">53</text></g>
<g id="leaf40"><text transform="rotate(317.92)" x="443" dy="9">MT487617.1 Mesobacillus jeotgali P24</text></g>
<g id="leaf41"><text transform="rotate(320.608)" x="443" dy="9">36</text></g>
<g id="leaf42"><text transform="rotate(323.296)" x="443" dy="9">14</text></g>
<g id="leaf43"><text transform="rotate(325.984)" x="443" dy="9">64</text></g>
<g id="leaf44"><text transform="rotate(328.672)" x="443" dy="9">10</text></g>
<g id="leaf45"><text transform="rotate(331.36)" x="443" dy="9">MT065780.1 Rossellomorea oryzaecorticis QT-52</text></g>
<g id="leaf46"><text transform="rotate(334.048)" x="443" dy="9">MN826155.1 Peribacillus simplex ILQ109</text></g>
<g id="leaf47"><text transform="rotate(336.736)" x="443" dy="9">OR778873.1 Peribacillus frigoritolerans AS-110s1</text></g>
<g id="leaf48"><text transform="rotate(339.424)" x="443" dy="9">MT102737.1 Bacillus thuringiensis Agri-29</text></g>
<g id="leaf49"><text transform="rotate(342.112)" x="443" dy="9">71</text></g>
<g id="leaf50"><text transform="rotate(344.8)" x="443" dy="9">45</text></g>
<g id="leaf51"><text transform="rotate(347.488)" x="443" dy="9">66</text></g>
<g id="leaf52"><text transform="rotate(350.176)" x="443" dy="9">68</text></g>
<g id="leaf53"><text transform="rotate(352.864)" x="443" dy="9">MZ067935.1 Bacillus vietnamensis XL386</text></g>
<g id="leaf54"><text transform="rotate(355.552)" x="443" dy="9">KT873471.1 Rossellomorea aquimaris</text></g>
<g id="leaf55"><text transform="rotate(358.24)" x="443" dy="9">76</text></g>
<g id="leaf56"><text transform="rotate(360.928)" x="443" dy="9">67</text></g>
<g id="leaf57"><text transform="rotate(363.616)" x="443" dy="9">26</text></g>
<g id="leaf58"><text transform="rotate(366.304)" x="443" dy="9">34</text></g>
<g id="leaf59"><text transform="rotate(368.992)" x="443" dy="9">25</text></g>
<g id="leaf60"><text transform="rotate(371.68)" x="443" dy="9">81</text></g>
<g id="leaf61"><text transform="rotate(374.368)" x="443" dy="9">HM770098.1 Bacillus thuringiensis ODPY</text></g>
<g id="leaf62"><text transform="rotate(377.056)" x="443" dy="9">MT538528.1 Bacillus paramycoides 3664</text></g>
<g id="leaf63"><text transform="rotate(379.744)" x="443" dy="9">13</text></g>
<g id="leaf64"><text transform="rotate(382.432)" x="443" dy="9">MK467594.1 Bacillus tropicus SA39</text></g>
<g id="leaf65"><text transform="rotate(385.12)" x="443" dy="9">MK886484.1 Bacillus cereus BC1</text></g>
<g id="leaf66"><text transform="rotate(387.808)" x="443" dy="9">62</text></g>
<g id="leaf67"><text transform="rotate(390.496)" x="443" dy="9">73</text></g>
<g id="leaf68"><text transform="rotate(393.184)" x="443" dy="9">AY505508.1 Bacillus baekryungensis GSP56</text></g>
<g id="leaf69"><text transform="rotate(395.872)" x="443" dy="9">MG651546 1 Pseudalkalibacillus hwajinpoensis FJAT 46935</text></g>
<g id="leaf70"><text transform="rotate(398.56)" x="443" dy="9">OR195745.1 Alkalihalobacillus sp. FJAT-53715</text></g>
<g id="leaf71"><text transform="rotate(401.248)" x="443" dy="9">KF933716 1 Bacillus hwajinpoensis QD40</text></g>
<g id="leaf72"><text transform="rotate(403.936)" x="443" dy="9">2</text></g>
<g id="leaf73"><text transform="rotate(406.624)" x="443" dy="9">88</text></g>
<g id="leaf74"><text transform="rotate(409.312)" x="443" dy="9">83</text></g>
<g id="leaf75"><text transform="rotate(412)" x="443" dy="9">1</text></g>
<g id="leaf76"><text transform="rotate(414.688)" x="443" dy="9">3</text></g>
<g id="leaf77"><text transform="rotate(417.376)" x="443" dy="9">69</text></g>
<g id="leaf78"><text transform="rotate(420.064)" x="443" dy="9">KT369946.1 Lysinibacillus xylanilyticus 12.2 1</text></g>
<g id="leaf79"><text transform="rotate(422.752)" x="443" dy="9">OR079741.1 Lysinibacillus capsici LZRD gt5</text></g>
<g id="leaf80"><text transform="rotate(425.44)" x="443" dy="9">24</text></g>
<g id="leaf81"><text transform="rotate(428.128)" x="443" dy="9">MH385002.1 Lysinibacillus boronitolerans Mix24</text></g>
<g id="leaf82"><text transform="rotate(430.816)" x="443" dy="9">28</text></g>
<g id="leaf83"><text transform="rotate(433.504)" x="443" dy="9">55</text></g>
<g id="leaf84"><text transform="rotate(436.192)" x="443" dy="9">MH392666.1 Paenisporosarcina quisquiliarum ICMP 22242</text></g>
<g id="leaf85"><text transform="rotate(438.88)" x="443" dy="9">FM173961.1 Sporosarcina sp. CL5.129</text></g>
<g id="leaf86"><text transform="rotate(441.568)" x="443" dy="9">49</text></g>
<g id="leaf87"><text transform="rotate(444.256)" x="443" dy="9">85</text></g>
<g id="leaf88"><text transform="rotate(446.944)" x="443" dy="9">63</text></g>
<g id="leaf89"><text transform="rotate(449.632)" x="443" dy="9">OR751909.1 Sporosarcina koreensis V2772</text></g>
<g id="leaf90"><text class="f" transform="rotate(272.32)" x="-443" dy="9">Sporosarcina ginsengisoli POM</text></g>
<g id="leaf91"><text class="f" transform="rotate(275.008)" x="-443" dy="9">MH094655.1 Bhargavaea changchunensis 201802YP6</text></g>
<g id="leaf92"><text class="f" transform="rotate(277.696)" x="-443" dy="9">MT313120.1 Bhargavaea beijingensis T17</text></g>
<g id="leaf93"><text class="f" transform="rotate(280.384)" x="-443" dy="9">46</text></g>
<g id="leaf94"><text class="f" transform="rotate(283.072)" x="-443" dy="9">65</text></g>
<g id="leaf95"><text class="f" transform="rotate(285.76)" x="-443" dy="9">MN850283.1 Fictibacillus sp. YS-26</text></g>
<g id="leaf96"><text class="f" transform="rotate(288.448)" x="-443" dy="9">MN203711.1 Fictibacillus phosphorivorans PJHNCP2</text></g>
<g id="leaf97"><text class="f" transform="rotate(291.136)" x="-443" dy="9">JQ689190.1 Bacillus nanhaiensis B3RO1</text></g>
<g id="leaf98"><text class="f" transform="rotate(293.824)" x="-443" dy="9">57</text></g>
<g id="leaf99"><text class="f" transform="rotate(296.512)" x="-443" dy="9">40</text></g>
<g id="leaf100"><text class="f" transform="rotate(299.2)" x="-443" dy="9">KP342191.1 Bacillus decolorationis KNUSC1049</text></g>
<g id="leaf101"><text class="f" transform="rotate(301.888)" x="-443" dy="9">KP297330.1 Bacillus berkeleyi 2-Sj-3-3-17M</text></g>
<g id="leaf102"><text class="f" transform="rotate(304.576)" x="-443" dy="9">9</text></g>
<g id="leaf103"><text class="f" transform="rotate(307.264)" x="-443" dy="9">38</text></g>
<g id="leaf104"><text class="f" transform="rotate(309.952)" x="-443" dy="9">4</text></g>
<g id="leaf105"><text class="f" transform="rotate(312.64)" x="-443" dy="9">37</text></g>
<g id="leaf106"><text class="f" transform="rotate(315.328)" x="-443" dy="9">15</text></g>
<g id="leaf107"><text class="f" transform="rotate(318.016)" x="-443" dy="9">33</text></g>
<g id="leaf108"><text class="f" transform="rotate(320.704)" x="-443" dy="9">39</text></g>
<g id="leaf109"><text class="f" transform="rotate(323.392)" x="-443" dy="9">30</text></g>
<g id="leaf110"><text class="f" transform="rotate(326.08)" x="-443" dy="9">35</text></g>
<g id="leaf111"><text class="f" transform="rotate(328.768)" x="-443" dy="9">5</text></g>
<g id="leaf112"><text class="f" transform="rotate(331.456)" x="-443" dy="9">7</text></g>
<g id="leaf113"><text class="f" transform="rotate(334.144)" x="-443" dy="9">27</text></g>
<g id="leaf114"><text class="f" transform="rotate(336.832)" x="-443" dy="9">MN004826.1 Ruegeria arenilitoris CRPUNR</text></g>
<g id="leaf115"><text class="f" transform="rotate(339.52)" x="-443" dy="9">NR 134012.1 Cribrihabitans neustonicus strain CC-AMHB-3</text></g>
<g id="leaf116"><text class="f" transform="rotate(342.208)" x="-443" dy="9">48</text></g>
<g id="leaf117"><text class="f" transform="rotate(344.896)" x="-443" dy="9">78</text></g>
<g id="leaf118"><text class="f" transform="rotate(347.584)" x="-443" dy="9">MF948950.1 Ruegeria sp. PrR0019</text></g>
<g id="leaf119"><text class="f" transform="rotate(350.272)" x="-443" dy="9">OR654362.1 Ruegeria pomerovi M53</text></g>
<g id="leaf120"><text class="f" transform="rotate(352.96)" x="-443" dy="9">NR 151937.1 Cribrihabitans pelagius KMU-32</text></g>
<g id="leaf121"><text class="f" transform="rotate(355.648)" x="-443" dy="9">41</text></g>
<g id="leaf122"><text class="f" transform="rotate(358.336)" x="-443" dy="9">61</text></g>
<g id="leaf123"><text class="f" transform="rotate(361.024)" x="-443" dy="9">31</text></g>
<g id="leaf124"><text class="f" transform="rotate(363.712)" x="-443" dy="9">NR 133733.1 Cribrihabitans marinus strain CZ-AM5</text></g>
<g id="leaf125"><text class="f" transform="rotate(366.4)" x="-443" dy="9">87</text></g>
<g id="leaf126"><text class="f" transform="rotate(369.088)" x="-443" dy="9">MK254673.1 Pseudoalteromonas shioyasakiensis SO240BG28</text></g>
<g id="leaf127"><text class="f" transform="rotate(371.776)" x="-443" dy="9">KU213104.1 Pseudoalteromonas sp. IG183</text></g>
<g id="leaf128"><text class="f" transform="rotate(374.464)" x="-443" dy="9">75</text></g>
<g id="leaf129"><text class="f" transform="rotate(377.152)" x="-443" dy="9">OR447962.1 Pseudoalteromonas shioyasakiensis AK206</text></g>
<g id="leaf130"><text class="f" transform="rotate(379.84)" x="-443" dy="9">Prochlorococcus marinus subsp. pastoris</text></g>
</g>
</g>
<g id="legend-ranges" class="lgt">
<rect x="60" y="240" width="359" height="894" fill="#fff" stroke="#e4e4e4" stroke-width="2"/>
<text class="lgh" x="78" y="292">Colored ranges</text>
<line x1="70" y1="314" x2="410" y2="314" stroke="#666" stroke-width="2"/>
<rect class="sw" x="75" y="334" width="62" height="59" fill="#a9a9a9"/>
<text x="167" y="378">Cluster 1</text>
<rect class="sw" x="75" y="424" width="62" height="59" fill="#d87aa4"/>
<text x="167" y="468">Cluster 2</text>
<rect class="sw" x="75" y="513" width="62" height="59" fill="#e0d4eb"/>
<text x="167" y="557">Cluster 3</text>
<rect class="sw" x="75" y="603" width="62" height="59" fill="#8ec8ec"/>
<text x="167" y="647">Cluster 4</text>
<rect class="sw" x="75" y="693" width="62" height="59" fill="#bba5d9"/>
<text x="167" y="737">Cluster 5</text>
<rect class="sw" x="75" y="782" width="62" height="59" fill="#9680c6"/>
<text x="167" y="826">Cluster 6</text>
<rect class="sw" x="75" y="872" width="62" height="59" fill="#007200"/>
<text x="167" y="916">Cluster 7</text>
<rect class="sw" x="75" y="962" width="62" height="59" fill="#3aa946"/>
<text x="167" y="1006">Cluster 8</text>
<rect class="sw" x="75" y="1051" width="62" height="59" fill="#a8d8a8"/>
<text x="167" y="1095">Cluster 9</text>
</g>
<g id="legend-bootstrap" class="lgt">
<rect x="60" y="1228" width="237" height="539" fill="#fff" stroke="#e4e4e4" stroke-width="2"/>
<text class="lgh" x="78" y="1279">bootstrap</text>
<line x1="70" y1="1300" x2="290" y2="1300" stroke="#666" stroke-width="2"/>
<circle cx="106" cy="1350" r="1.8" fill="#4a4a4a"/>
<text x="167" y="1365">0.58</text>
<circle cx="106" cy="1439" r="2.4" fill="#4a4a4a"/>
<text x="167" y="1454">0.69</text>
<circle cx="106" cy="1529" r="3.2" fill="#4a4a4a"/>
<text x="167" y="1544">0.79</text>
<circle cx="106" cy="1618" r="4" fill="#4a4a4a"/>
<text x="167" y="1633">0.9</text>
<circle cx="106" cy="1708" r="5" fill="#4a4a4a"/>
<text x="167" y="1723">1</text>
</g>
</svg>
